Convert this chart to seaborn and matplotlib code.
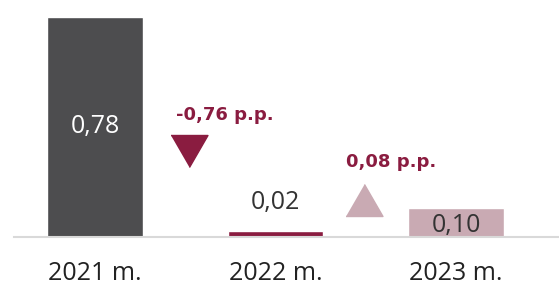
import numpy as np
import matplotlib.pyplot as plt
import seaborn as sns

years = ["2021 m.", "2022 m.", "2023 m."]
values = [0.78, 0.02, 0.10]
bar_colors = ["#4d4d4f", "#8a1c40", "#c9aab3"]
arrow_colors = ["#8a1c40", "#c9aab3"]

sns.set_style("white")
plt.rcParams["font.family"] = ["Open Sans", "DejaVu Sans"]


def fmt(v, sign=False):
    s = f"{v:+.2f}" if sign else f"{v:.2f}"
    if sign and v > 0:
        s = s[1:]
    return s.replace(".", ",")


fig = plt.figure(figsize=(5.59, 2.87), dpi=100)
ax = fig.add_axes([14 / 559, 1 - 236.5 / 287, 1 - 14 / 559, 236.5 / 287])

sns.barplot(x=years, y=values, hue=years, palette=bar_colors,
            width=0.53, legend=False, ax=ax, saturation=1)

ax.set_xlim(-0.449, 2.571)
ax.set_ylim(0, 0.842)

# value labels
ax.text(0, values[0] / 2, fmt(values[0]), ha="center", va="center",
        color="white", fontsize=18)
ax.text(1, values[1] + 0.1, fmt(values[1]), ha="center", va="center",
        color="#333333", fontsize=18)
ax.text(2, values[2] * 0.4, fmt(values[2]), ha="center", va="center",
        color="#333333", fontsize=18)

# change markers
down = [(-0.5, 0.433), (0.5, 0.433), (0, -0.433)]
up = [(-0.5, -0.433), (0.5, -0.433), (0, 0.433)]
changes = np.diff(values)
marker_x = [0.518, 1.49]
marker_y = [0.303, 0.13]
label_x = [0.72, 1.64]
label_y = [0.432, 0.265]
for i, ch in enumerate(changes):
    ax.plot(marker_x[i], marker_y[i], marker=down if ch < 0 else up,
            markersize=26.6, color=arrow_colors[i], linestyle="none")
    ax.text(label_x[i], label_y[i], fmt(ch, sign=True) + " p.p.",
            ha="center", va="center", color="#8a1c40",
            fontsize=13, fontweight="bold", family="DejaVu Sans")

sns.despine(ax=ax, left=True)
ax.spines["bottom"].set_color("#d9d9d9")
ax.spines["bottom"].set_linewidth(1.5)
ax.set_yticks([])
ax.tick_params(axis="x", length=0, pad=18, labelsize=18, labelcolor="#222222")
ax.set_xlabel("")
ax.set_ylabel("")

fig.savefig("out.png", dpi=100)
